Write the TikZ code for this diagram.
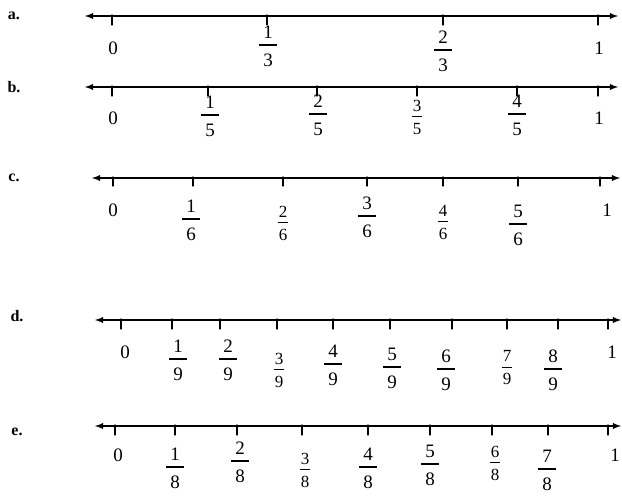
\documentclass[tikz,border=0pt]{standalone}
\usepackage{fontspec}
\setmainfont{Liberation Serif}

% 分数：上下两行 + 中间一条横线
\newcommand{\handfrac}[2]{#1\\\rule[6.5pt]{18pt}{1.4pt}\\#2}
\newcommand{\printfrac}[2]{#1\\\rule[5.5pt]{10pt}{1.1pt}\\#2}

\begin{document}
\begin{tikzpicture}[x=1pt, y=-1pt, line cap=round, line join=round,
    numline/.style={line width=1.8pt, latex-latex},
    tickmark/.style={line width=1.2pt},
    rowlbl/.style={anchor=center, inner sep=0pt, font=\fontsize{16}{19}\selectfont\bfseries},
    typed/.style={anchor=center, inner sep=0pt, font=\fontsize{19}{23}\selectfont},
    smallfrac/.style={anchor=center, inner sep=0pt, align=center, font=\fontsize{17}{11.5}\selectfont},
    hand/.style={anchor=center, inner sep=0pt, align=center, font=\fontsize{19}{14}\selectfont}]

  %% ════ 行标签 ════
  \node[rowlbl] (la) at (14,16)  {a.};
  \node[rowlbl] (lb) at (14,87)  {b.};
  \node[rowlbl] (lc) at (14,178) {c.};
  \node[rowlbl] (ld) at (17,316) {d.};
  \node[rowlbl] (le) at (17,432) {e.};

  %% ════ 数轴 ════
  \draw[numline] (85,16)  -- (618,16);
  \draw[numline] (85,87)  -- (618,87);
  \draw[numline] (92,178) -- (620,178);
  \draw[numline] (95,320) -- (621,320);
  \draw[numline] (95,426) -- (621,426);

  %% ════ 刻度 a ════
  \draw[tickmark] (112,15) -- (112,25);
  \draw[tickmark] (267,15) -- (267,25);
  \draw[tickmark] (443,15) -- (443,25);
  \draw[tickmark] (598,15) -- (598,25);

  %% ════ 刻度 b ════
  \draw[tickmark] (112,86) -- (112,96);
  \draw[tickmark] (208,86) -- (208,96);
  \draw[tickmark] (317,86) -- (317,96);
  \draw[tickmark] (417,86) -- (417,96);
  \draw[tickmark] (517,86) -- (517,96);
  \draw[tickmark] (598,86) -- (598,96);

  %% ════ 刻度 c ════
  \draw[tickmark] (113,177) -- (113,186);
  \draw[tickmark] (193,177) -- (193,186);
  \draw[tickmark] (283,177) -- (283,186);
  \draw[tickmark] (367,177) -- (367,186);
  \draw[tickmark] (443,177) -- (443,186);
  \draw[tickmark] (518,177) -- (518,186);
  \draw[tickmark] (600,177) -- (600,186);

  %% ════ 刻度 d ════
  \draw[tickmark] (121,319) -- (121,329);
  \draw[tickmark] (172,319) -- (172,329);
  \draw[tickmark] (220,319) -- (220,329);
  \draw[tickmark] (277,319) -- (277,329);
  \draw[tickmark] (333,319) -- (333,329);
  \draw[tickmark] (390,319) -- (390,329);
  \draw[tickmark] (452,319) -- (452,329);
  \draw[tickmark] (507,319) -- (507,329);
  \draw[tickmark] (558,319) -- (558,329);
  \draw[tickmark] (608,319) -- (608,329);

  %% ════ 刻度 e ════
  \draw[tickmark] (115,425) -- (115,435);
  \draw[tickmark] (175,425) -- (175,435);
  \draw[tickmark] (237,425) -- (237,435);
  \draw[tickmark] (302,425) -- (302,435);
  \draw[tickmark] (368,425) -- (368,435);
  \draw[tickmark] (430,425) -- (430,435);
  \draw[tickmark] (492,425) -- (492,435);
  \draw[tickmark] (548,425) -- (548,435);
  \draw[tickmark] (608,425) -- (608,435);

  %% ════ 数字 a ════
  \node[typed] (a0) at (113,48)  {0};
  \node[hand]  (a1) at (268,46)  {\handfrac{1}{3}};
  \node[hand]  (a2) at (443,51)  {\handfrac{2}{3}};
  \node[typed] (a3) at (599,48)  {1};

  %% ════ 数字 b ════
  \node[typed] (b0) at (113,118) {0};
  \node[hand]  (b1) at (210,116) {\handfrac{1}{5}};
  \node[hand]  (b2) at (318,115) {\handfrac{2}{5}};
  \node[smallfrac] (b3) at (417,117) {\printfrac{3}{5}};
  \node[hand]  (b4) at (517,115) {\handfrac{4}{5}};
  \node[typed] (b5) at (599,118) {1};

  %% ════ 数字 c ════
  \node[typed] (c0) at (113,210) {0};
  \node[hand]  (c1) at (191,220) {\handfrac{1}{6}};
  \node[smallfrac] (c2) at (283,223) {\printfrac{2}{6}};
  \node[hand]  (c3) at (367,217) {\handfrac{3}{6}};
  \node[smallfrac] (c4) at (443,222) {\printfrac{4}{6}};
  \node[hand]  (c5) at (518,225) {\handfrac{5}{6}};
  \node[typed] (c6) at (607,210) {1};

  %% ════ 数字 d ════
  \node[typed] (d0) at (125,352) {0};
  \node[hand]  (d1) at (178,360) {\handfrac{1}{9}};
  \node[hand]  (d2) at (228,360) {\handfrac{2}{9}};
  \node[smallfrac] (d3) at (279,370) {\printfrac{3}{9}};
  \node[hand]  (d4) at (333,365) {\handfrac{4}{9}};
  \node[hand]  (d5) at (392,368) {\handfrac{5}{9}};
  \node[hand]  (d6) at (446,370) {\handfrac{6}{9}};
  \node[smallfrac] (d7) at (507,368) {\printfrac{7}{9}};
  \node[hand]  (d8) at (553,370) {\handfrac{8}{9}};
  \node[typed] (d9) at (612,352) {1};

  %% ════ 数字 e ════
  \node[typed] (e0) at (118,455) {0};
  \node[hand]  (e1) at (175,468) {\handfrac{1}{8}};
  \node[hand]  (e2) at (240,462) {\handfrac{2}{8}};
  \node[smallfrac] (e3) at (305,470) {\printfrac{3}{8}};
  \node[hand]  (e4) at (368,468) {\handfrac{4}{8}};
  \node[hand]  (e5) at (430,465) {\handfrac{5}{8}};
  \node[smallfrac] (e6) at (495,463) {\printfrac{6}{8}};
  \node[hand]  (e7) at (547,470) {\handfrac{7}{8}};
  \node[typed] (e8) at (615,455) {1};

  % 钉死画布
  \pgfresetboundingbox
  \path[use as bounding box] (0,0) rectangle (622,498);
\end{tikzpicture}
\end{document}
